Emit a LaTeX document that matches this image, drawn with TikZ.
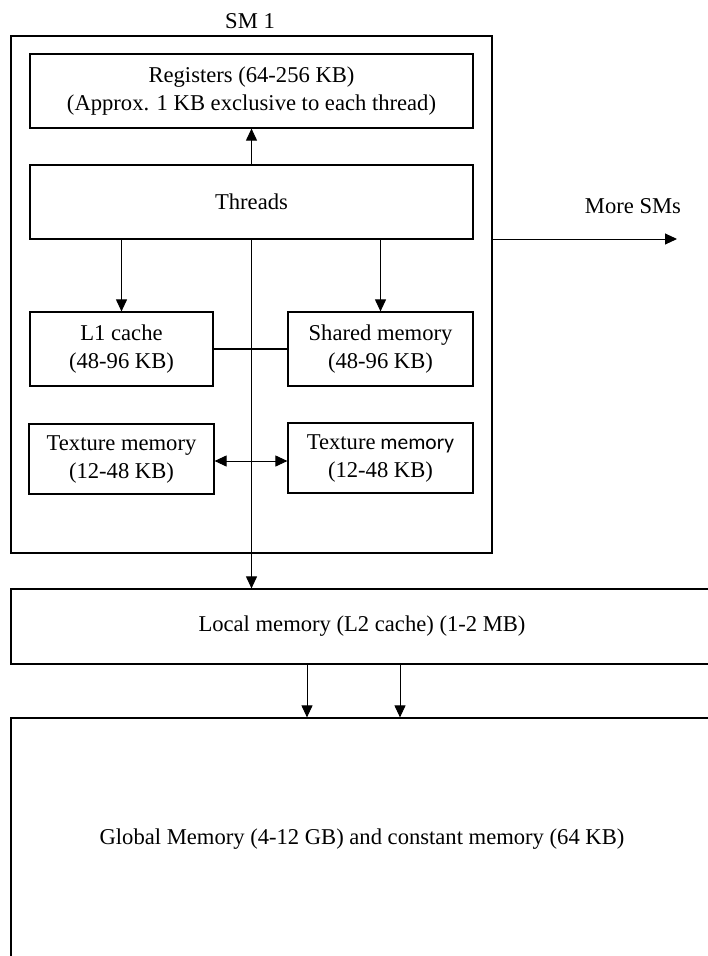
\documentclass[tikz,border=0pt]{standalone}
\usepackage{fontspec}
\setmainfont{Liberation Serif}
\newfontfamily\calibrifont{Carlito}
\usetikzlibrary{arrows.meta,calc}

\begin{document}
\begin{tikzpicture}[x=1pt,y=-1pt,
    every node/.style={font=\fontsize{22.6}{28}\selectfont},
    membox/.style={draw, line width=1.2pt, inner sep=0pt, align=center},
    smbox/.style={draw, line width=2pt, inner sep=0pt},
    link/.style={line width=1pt},
    arr/.style={link, -{Triangle[length=12pt,width=11pt]}},
    darr/.style={link, {Triangle[length=12pt,width=11pt]}-{Triangle[length=12pt,width=11pt]}}]

  \useasboundingbox (0,0) rectangle (708,956);

  % streaming multiprocessor frame
  \node[smbox, minimum width=481pt, minimum height=517pt] (sm) at (251.5,294.5) {};
  \node (smlabel) at (250,21) {SM 1};

  % on-chip memories
  \node[membox, minimum width=443pt, minimum height=74pt] (reg) at (251.5,91)
    {Registers (64-256 KB)\\(Approx. 1 KB exclusive to each thread)};
  \node[membox, minimum width=443pt, minimum height=74pt] (thr) at (251.5,202) {Threads};
  \node[membox, minimum width=183pt, minimum height=74pt] (l1) at (121.5,349)
    {L1 cache\\(48-96 KB)};
  \node[membox, minimum width=185pt, minimum height=74pt] (shm) at (380.5,349)
    {Shared memory\\(48-96 KB)};
  \node[membox, minimum width=185pt, minimum height=70pt] (texl) at (121.5,459)
    {Texture memory\\(12-48 KB)};
  \node[membox, minimum width=185pt, minimum height=70pt] (texr) at (380.5,458)
    {Texture{\calibrifont\fontsize{21.5}{28}\selectfont{} memory}\\(12-48 KB)};

  % off-chip memories
  \node[membox, minimum width=702pt, minimum height=75pt] (l2) at (362,626.5)
    {Local memory (L2 cache) (1-2 MB)};
  \node[membox, minimum width=702pt, minimum height=242pt] (glob) at (362,839)
    {Global Memory (4-12 GB) and constant memory (64 KB)};

  % other multiprocessors
  \node (more) at (633,206) {More SMs};
  \coordinate (moreend) at (677,239);
  \draw[arr] (moreend -| sm.east) -- (moreend);

  % connectors inside the multiprocessor
  \draw[arr] (thr.north) -- (reg.south);
  \draw[arr] (thr.south -| l1.north) -- (l1.north);
  \draw[arr] (thr.south -| shm.north) -- (shm.north);
  \draw[line width=1.6pt] (l1.east) -- (shm.west);
  \coordinate (texline) at (0,461);
  \draw[darr] (texline -| texl.east) -- (texline -| texr.west);
  \draw[arr] (thr.south) -- (thr.south |- l2.north);

  % L2 to global memory
  \coordinate (la) at (307,0);
  \coordinate (lb) at (400,0);
  \draw[arr] (la |- l2.south) -- (la |- glob.north);
  \draw[arr] (lb |- l2.south) -- (lb |- glob.north);
\end{tikzpicture}
\end{document}
